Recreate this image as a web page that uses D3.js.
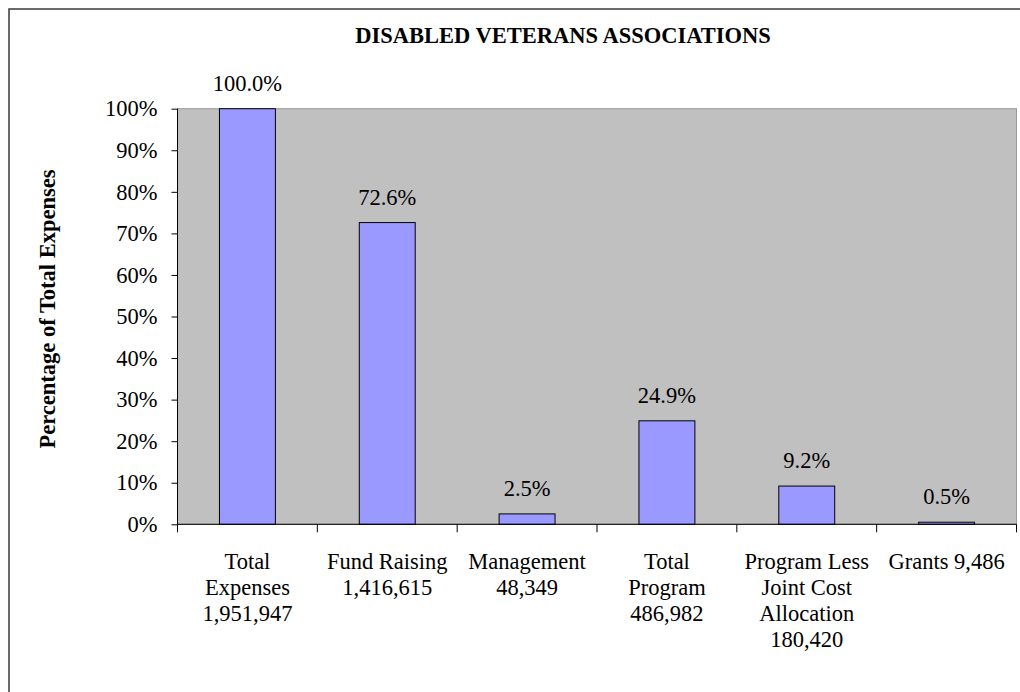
<!DOCTYPE html>
<html>
<head>
<meta charset="utf-8">
<script src="https://cdn.jsdelivr.net/npm/d3@7"></script>
<style>
  body { margin: 0; background: #fff; }
  svg text { font-family: "Liberation Serif", "Times New Roman", serif; fill: #000; }
</style>
</head>
<body>
<svg id="chart" width="1020" height="692"></svg>
<script>
// chart values
var categories = ["Total\nExpenses\n1,951,947", "Fund Raising\n1,416,615", "Management\n48,349",
  "Total\nProgram\n486,982", "Program Less\nJoint Cost\nAllocation\n180,420", "Grants 9,486"];
var percents = [100.0, 72.6, 2.5, 24.9, 9.2, 0.5];
var yTicks = [0, 10, 20, 30, 40, 50, 60, 70, 80, 90, 100];
var chartTitle = "DISABLED VETERANS ASSOCIATIONS";
var yTitle = "Percentage of Total Expenses";

var svg = d3.select("#chart");

// plot area bounds (plotTop, not "top": window.top is read-only)
var plotLeft = 177.5, plotRight = 1016.5, plotTop = 108.7, plotBottom = 524.3;
var fontSize = "22.5px";
var serif = "'Liberation Serif', 'Times New Roman', serif";

// outer chart border, runs off the right and bottom of the picture
svg.append("rect")
  .attr("x", 9).attr("y", 9)
  .attr("width", 1100).attr("height", 800)
  .attr("fill", "#fff")
  .attr("stroke", "#3a3a3a")
  .attr("stroke-width", 1.5);

var xScale = d3.scaleBand().domain(d3.range(categories.length)).range([plotLeft, plotRight]);
var yScale = d3.scaleLinear().domain([0, 100]).range([plotBottom, plotTop]);

// grey plot background
svg.append("rect")
  .attr("x", plotLeft).attr("y", plotTop)
  .attr("width", plotRight - plotLeft).attr("height", plotBottom - plotTop)
  .attr("fill", "#c0c0c0")
  .attr("stroke", "#9a9a9a")
  .attr("stroke-width", 1);

// bars, 40% of the band, centred
var barW = xScale.bandwidth() * 0.4;
svg.selectAll(".bar").data(percents).enter().append("rect")
  .attr("class", "bar")
  .attr("x", function(d, i){ return xScale(i) + (xScale.bandwidth() - barW) / 2; })
  .attr("y", function(d){ return yScale(d); })
  .attr("width", barW)
  .attr("height", function(d){ return plotBottom - yScale(d); })
  .attr("fill", "#9999ff")
  .attr("stroke", "#000")
  .attr("stroke-width", 1);

// value labels above the bars
svg.selectAll(".val").data(percents).enter().append("text")
  .attr("class", "val")
  .attr("x", function(d, i){ return xScale(i) + xScale.bandwidth() / 2; })
  .attr("y", function(d){ return yScale(d) - 18; })
  .attr("text-anchor", "middle")
  .style("font-family", serif)
  .style("font-size", fontSize)
  .text(function(d){ return d.toFixed(1) + "%"; });

// y axis
var yAxis = d3.axisLeft(yScale).tickValues(yTicks)
  .tickSize(6).tickPadding(14)
  .tickFormat(function(d){ return d + "%"; });
var yG = svg.append("g").attr("transform", "translate(" + plotLeft + ",0)").call(yAxis);
yG.attr("font-family", null).attr("font-size", null);
yG.select(".domain").attr("stroke", "#000").attr("d", "M0," + plotTop + "V" + plotBottom);
yG.selectAll(".tick line").attr("stroke", "#000");
yG.selectAll(".tick text")
  .style("font-size", fontSize)
  .style("font-family", serif)
  .attr("fill", "#000");

// x axis: ticks on band edges, labels drawn separately
var xEdges = d3.range(categories.length + 1).map(function(i){
  return i < categories.length ? xScale(i) : plotRight;
});
svg.append("line")
  .attr("x1", plotLeft).attr("x2", plotRight)
  .attr("y1", plotBottom).attr("y2", plotBottom)
  .attr("stroke", "#000");
svg.selectAll(".xtick").data(xEdges).enter().append("line")
  .attr("class", "xtick")
  .attr("x1", function(d){ return d; }).attr("x2", function(d){ return d; })
  .attr("y1", plotBottom).attr("y2", plotBottom + 8)
  .attr("stroke", "#000");

var catText = svg.selectAll(".cat").data(categories).enter().append("text")
  .attr("class", "cat")
  .attr("text-anchor", "middle")
  .style("font-family", serif)
  .style("font-size", fontSize);
catText.each(function(d, i){
  var t = d3.select(this);
  var cx = xScale(i) + xScale.bandwidth() / 2;
  d.split("\n").forEach(function(line, k){
    t.append("tspan")
      .attr("x", cx)
      .attr("y", plotBottom + 45 + k * 26)
      .text(line);
  });
});

// titles
svg.append("text")
  .attr("x", 563).attr("y", 42.7)
  .attr("text-anchor", "middle")
  .style("font-family", serif)
  .style("font-size", fontSize)
  .style("font-weight", "bold")
  .text(chartTitle);

svg.append("text")
  .attr("transform", "translate(55,309) rotate(-90)")
  .attr("text-anchor", "middle")
  .style("font-family", serif)
  .style("font-size", fontSize)
  .style("font-weight", "bold")
  .text(yTitle);
</script>
</body>
</html>
